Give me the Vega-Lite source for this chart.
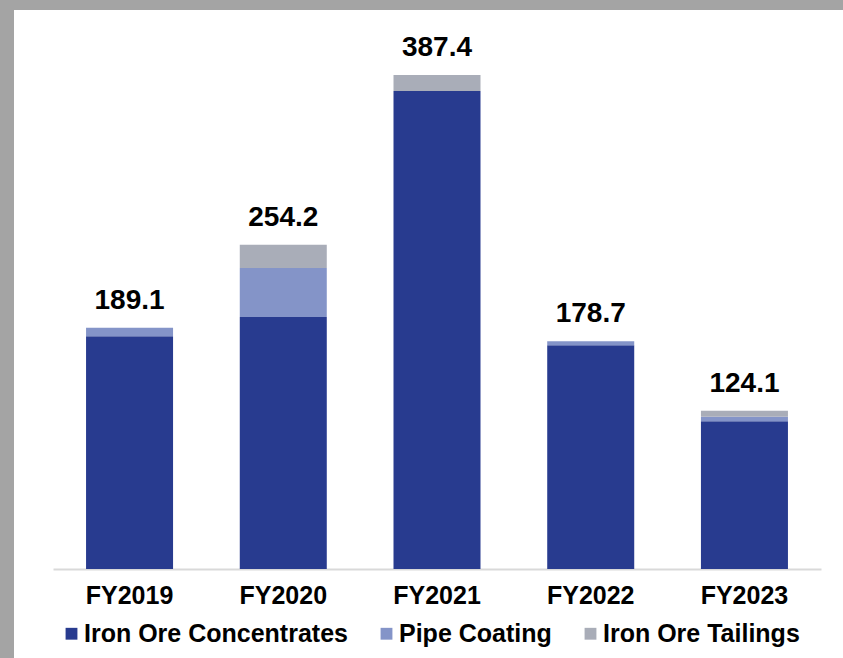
{
  "$schema": "https://vega.github.io/schema/vega-lite/v6.json",
  "width": 829,
  "height": 648,
  "autosize": {"type": "none"},
  "padding": {"left": 14, "top": 10, "right": 0, "bottom": 0},
  "background": "#a4a4a4",
  "view": {"fill": "#ffffff", "stroke": null},
  "config": {"font": "Liberation Sans"},
  "data": {
    "values": [
      {"year": "FY2019", "product": "Iron Ore Concentrates", "value": 182.5},
      {"year": "FY2019", "product": "Pipe Coating", "value": 6.6},
      {"year": "FY2020", "product": "Iron Ore Concentrates", "value": 197.6},
      {"year": "FY2020", "product": "Pipe Coating", "value": 38.4},
      {"year": "FY2020", "product": "Iron Ore Tailings", "value": 18.2},
      {"year": "FY2021", "product": "Iron Ore Concentrates", "value": 374.9},
      {"year": "FY2021", "product": "Iron Ore Tailings", "value": 12.5},
      {"year": "FY2022", "product": "Iron Ore Concentrates", "value": 175.5},
      {"year": "FY2022", "product": "Pipe Coating", "value": 3.2},
      {"year": "FY2023", "product": "Iron Ore Concentrates", "value": 115.9},
      {"year": "FY2023", "product": "Pipe Coating", "value": 3.5},
      {"year": "FY2023", "product": "Iron Ore Tailings", "value": 4.7}
    ]
  },
  "encoding": {
    "x": {
      "field": "year",
      "type": "nominal",
      "scale": {"range": [39, 807], "paddingInner": 0.434, "paddingOuter": 0.215},
      "axis": {
        "orient": "bottom",
        "offset": -89,
        "title": null,
        "labelAngle": 0,
        "labelFontSize": 25,
        "labelFontWeight": "bold",
        "labelColor": "#000000",
        "labelPadding": 14,
        "ticks": false,
        "domainColor": "#d9d9d9",
        "domainWidth": 2
      }
    }
  },
  "layer": [
    {
      "transform": [
        {"calculate": "indexof(['Iron Ore Concentrates', 'Pipe Coating', 'Iron Ore Tailings'], datum.product)", "as": "stackOrder"}
      ],
      "mark": {"type": "bar"},
      "encoding": {
        "y": {
          "field": "value",
          "type": "quantitative",
          "stack": "zero",
          "scale": {"domain": [0, 387.4], "range": [559, 65], "nice": false},
          "axis": null
        },
        "order": {"field": "stackOrder", "type": "quantitative", "sort": "ascending"},
        "color": {
          "field": "product",
          "type": "nominal",
          "scale": {
            "domain": ["Iron Ore Concentrates", "Pipe Coating", "Iron Ore Tailings"],
            "range": ["#283b8f", "#8494c8", "#a9adb8"]
          },
          "legend": {
            "orient": "none",
            "direction": "horizontal",
            "legendX": 45,
            "legendY": 611,
            "title": null,
            "symbolType": "square",
            "symbolSize": 140,
            "symbolStrokeWidth": 0,
            "labelFontSize": 25,
            "labelFontWeight": "bold",
            "labelColor": "#000000",
            "labelLimit": 400,
            "labelOffset": 0,
            "columnPadding": 26
          }
        }
      }
    },
    {
      "transform": [
        {"aggregate": [{"op": "sum", "field": "value", "as": "total"}], "groupby": ["year"]}
      ],
      "mark": {"type": "text", "baseline": "bottom", "dy": -13, "fontSize": 28, "fontWeight": "bold", "color": "#000000"},
      "encoding": {
        "y": {"field": "total", "type": "quantitative", "axis": null},
        "text": {"field": "total", "type": "quantitative", "format": ".1f"}
      }
    }
  ]
}
